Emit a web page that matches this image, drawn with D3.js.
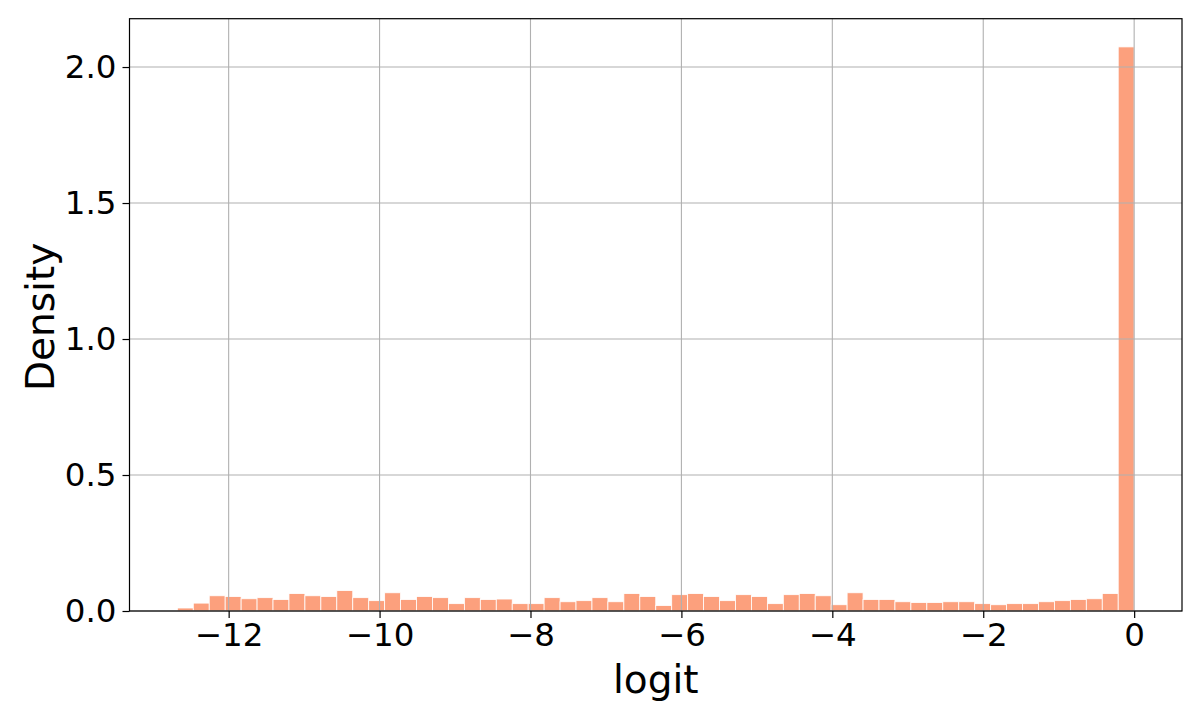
<!DOCTYPE html>
<html>
<head>
<meta charset="utf-8">
<script src="https://cdn.jsdelivr.net/npm/d3@7"></script>
<style>
  html, body { margin: 0; padding: 0; background: #fff; }
  svg { display: block; }
  text { font-family: "DejaVu Sans", sans-serif; fill: #000; }
</style>
</head>
<body>
<svg id="chart" width="1200" height="720"></svg>
<script>
// ---- Data ----
const binStart = -12.68;
const binEnd = 0;
const densities = [
  0.011, 0.029, 0.056, 0.053, 0.045, 0.049, 0.042, 0.064, 0.056, 0.053,
  0.075, 0.049, 0.038, 0.067, 0.042, 0.053, 0.049, 0.027, 0.049, 0.042,
  0.044, 0.027, 0.027, 0.049, 0.034, 0.038, 0.049, 0.034, 0.064, 0.053,
  0.020, 0.060, 0.064, 0.053, 0.038, 0.060, 0.053, 0.027, 0.060, 0.064,
  0.056, 0.023, 0.067, 0.042, 0.042, 0.034, 0.031, 0.031, 0.034, 0.034,
  0.027, 0.023, 0.027, 0.027, 0.034, 0.038, 0.042, 0.045, 0.064, 2.074
];
const xTicks = [-12, -10, -8, -6, -4, -2, 0];
const yTicks = [0.0, 0.5, 1.0, 1.5, 2.0];
const xLabel = "logit";
const yLabel = "Density";

// ---- Layout ----
const W = 1200, H = 720;
const plot = { left: 129.5, top: 18.7, right: 1182, bottom: 611 };
const barColor = "#FCA07D";
const gridColor = "#b0b0b0";

const nBins = densities.length;
const binW = (binEnd - binStart) / nBins;
const bins = densities.map((d, i) => ({ x0: binStart + i * binW, x1: binStart + (i + 1) * binW, d }));

const span = binEnd - binStart;
const x = d3.scaleLinear()
  .domain([binStart - 0.05 * span, binEnd + 0.05 * span])
  .range([plot.left, plot.right]);
const yMax = d3.max(densities);
const y = d3.scaleLinear()
  .domain([0, yMax * 1.05])
  .range([plot.bottom, plot.top]);

const svg = d3.select("#chart");

// Bars
svg.append("g").selectAll("rect").data(bins).join("rect")
  .attr("x", b => x(b.x0))
  .attr("y", b => y(b.d))
  .attr("width", b => x(b.x1) - x(b.x0))
  .attr("height", b => y(0) - y(b.d))
  .attr("fill", barColor)
  .attr("stroke", "#fff")
  .attr("stroke-width", 0.8);

// Grid (drawn on top of bars, as in reference)
const grid = svg.append("g");
grid.selectAll("line.gx").data(xTicks).join("line")
  .attr("x1", d => x(d)).attr("x2", d => x(d))
  .attr("y1", plot.top).attr("y2", plot.bottom)
  .attr("stroke", gridColor).attr("stroke-width", 1.1);
grid.selectAll("line.gy").data(yTicks).join("line")
  .attr("y1", d => y(d)).attr("y2", d => y(d))
  .attr("x1", plot.left).attr("x2", plot.right)
  .attr("stroke", gridColor).attr("stroke-width", 1.1);

// Axes
const fmtX = d => (d < 0 ? "\u2212" + Math.abs(d) : String(d));
const xAxis = d3.axisBottom(x).tickValues(xTicks).tickFormat(fmtX).tickSize(7).tickPadding(5);
const yAxis = d3.axisLeft(y).tickValues(yTicks).tickFormat(d3.format(".1f")).tickSize(7).tickPadding(6);

const gx = svg.append("g").attr("transform", `translate(0,${plot.bottom})`).call(xAxis);
const gy = svg.append("g").attr("transform", `translate(${plot.left},0)`).call(yAxis);
[gx, gy].forEach(g => {
  g.select(".domain").remove();
  g.selectAll(".tick line").attr("stroke", "#000").attr("stroke-width", 1.2);
  g.selectAll(".tick text").attr("font-size", 32.5).attr("font-family", "DejaVu Sans").attr("fill", "#000");
});

// Frame
svg.append("rect")
  .attr("x", plot.left).attr("y", plot.top)
  .attr("width", plot.right - plot.left).attr("height", plot.bottom - plot.top)
  .attr("fill", "none").attr("stroke", "#000").attr("stroke-width", 1.2);

// Labels
svg.append("text")
  .attr("x", (plot.left + plot.right) / 2).attr("y", 693)
  .attr("text-anchor", "middle").attr("font-size", 39)
  .text(xLabel);
svg.append("text")
  .attr("transform", `translate(54,${(plot.top + plot.bottom) / 2 + 2}) rotate(-90)`)
  .attr("text-anchor", "middle").attr("font-size", 39)
  .text(yLabel);
</script>
</body>
</html>
